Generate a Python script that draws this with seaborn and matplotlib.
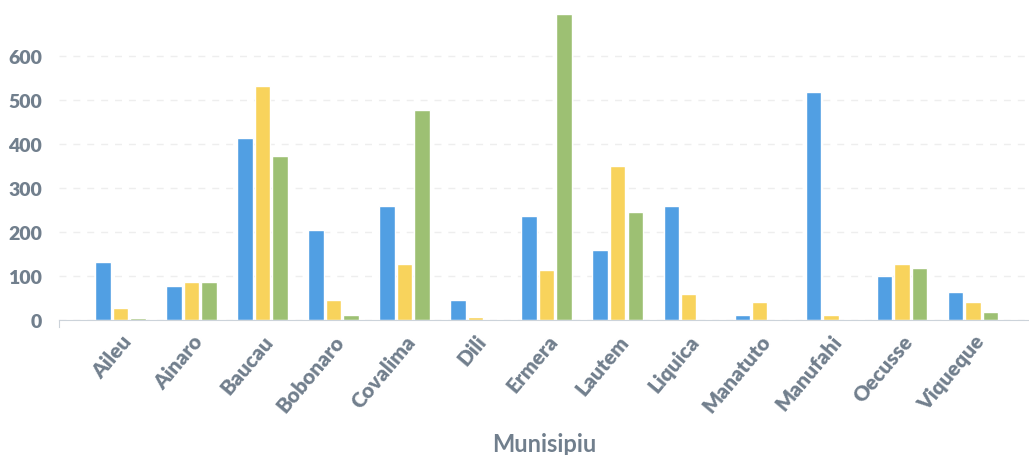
import pandas as pd
import matplotlib
matplotlib.use("Agg")
import matplotlib.pyplot as plt
import seaborn as sns

# Data
municipios = ["Aileu", "Ainaro", "Baucau", "Bobonaro", "Covalima", "Dili", "Ermera",
              "Lautem", "Liquica", "Manatuto", "Manufahi", "Oecusse", "Viqueque"]
serie_a = [132, 77, 414, 205, 259, 45, 236, 159, 259, 12, 518, 100, 64]
serie_b = [27, 86, 532, 45, 127, 8, 114, 350, 59, 41, 12, 127, 41]
serie_c = [4, 86, 373, 12, 477, 0, 695, 245, 0, 0, 0, 118, 18]
series = ["A", "B", "C"]
colors = ["#519FE3", "#F8D35C", "#9DC073"]

df = pd.DataFrame({"Munisipiu": municipios, "A": serie_a, "B": serie_b, "C": serie_c})
df = df.melt(id_vars="Munisipiu", var_name="serie", value_name="valor")

sns.set_style("white")
plt.rcParams["font.family"] = ["Lato", "DejaVu Sans"]
grey = "#717F8D"

fig = plt.figure(figsize=(10.29, 4.56), dpi=100)
ax = fig.add_axes([0.057, 0.296, 0.943, 0.675])

sns.barplot(data=df, x="Munisipiu", y="valor", hue="serie", hue_order=series,
            palette=colors, width=0.74, gap=0.12, saturation=1, ax=ax, legend=False)

ax.set_ylim(0, 700)
ax.set_xlim(-0.87, 12.79)
ax.set_yticks([0, 100, 200, 300, 400, 500, 600])
ax.yaxis.grid(True, linestyle=(0, (5, 5)), color="#EEEEEE", linewidth=1)
ax.set_axisbelow(True)
for s in ["top", "right"]:
    ax.spines[s].set_visible(False)
ax.spines["left"].set_color("#CCD3DA")
ax.spines["bottom"].set_color("#CCD3DA")
ax.spines["left"].set_bounds(-15, 0)
ax.tick_params(axis="y", length=0, colors=grey, labelsize=14, pad=12)
ax.tick_params(axis="x", length=0, colors=grey, labelsize=15, pad=8)
for lbl in ax.get_yticklabels():
    lbl.set_fontweight("heavy")
plt.setp(ax.get_xticklabels(), rotation=50, ha="right", rotation_mode="anchor",
         fontweight="heavy")
ax.set_ylabel("")
ax.set_xlabel("Munisipiu", fontsize=17, fontweight="bold", color=grey, labelpad=12)

fig.savefig("out.png", dpi=100)
